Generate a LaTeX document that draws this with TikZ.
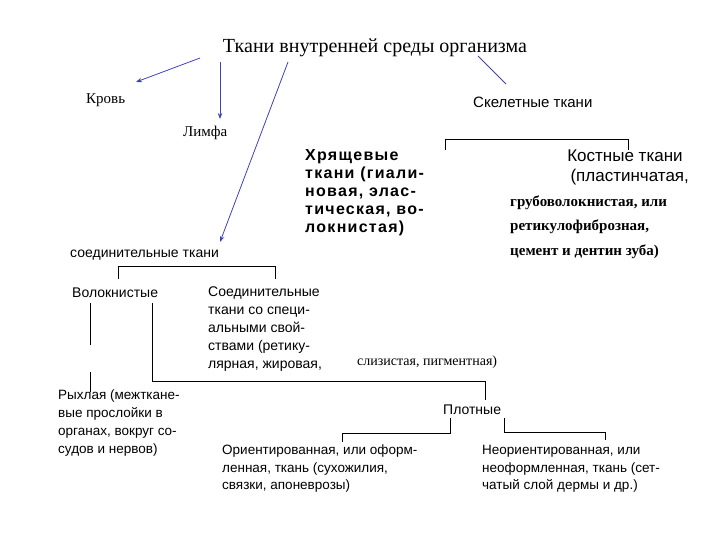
\documentclass[tikz,border=0pt]{standalone}
\usepackage{fontspec}
\usetikzlibrary{arrows.meta}
\setmainfont{Liberation Serif}
\newfontfamily\myss{Liberation Sans}
\newfontfamily\mywide[LetterSpace=8]{Liberation Sans}
\begin{document}
\begin{tikzpicture}[x=1pt,y=-1pt,
  ser/.style={inner sep=0pt,anchor=west,font=\fontsize{15}{18}\selectfont},
  san/.style={inner sep=0pt,anchor=west,align=left,font=\myss\fontsize{14}{17.5}\selectfont},
  bl/.style={draw=blue!50!gray,line width=0.8pt},
  arr/.style={bl,-{Stealth[length=6pt]}},
  br/.style={draw=black,line width=0.8pt}]
\useasboundingbox (0,0) rectangle (720,540);
\node[inner sep=0pt,font=\fontsize{20}{24}\selectfont] (t) at (375,48) {Ткани внутренней среды организма};
\node[ser] (krov) at (86,100) {Кровь};
\node[ser] (limf) at (183,133) {Лимфа};
\node[san,font=\myss\fontsize{15}{18}\selectfont] (skel) at (473,102) {Скелетные ткани};
\coordinate (a1) at (200,58); \coordinate (a1e) at (136,82);
\coordinate (a2) at (220,62); \coordinate (a2e) at (220,119);
\coordinate (a3) at (288,62); \coordinate (a3e) at (220,242);
\coordinate (a4) at (478,56); \coordinate (a4e) at (506,84);
\draw[arr] (a1) -- (a1e);
\draw[arr] (a2) -- (a2e);
\draw[arr] (a3) -- (a3e);
\draw[bl] (a4) -- (a4e);
\draw[br] (445,150) -- (445,139) -- (628,139) -- (628,150);
\node[san,font=\mywide\bfseries\fontsize{16}{18}\selectfont] (hr) at (305,193) {Хрящевые\\ткани (гиали-\\новая, элас-\\тическая, во-\\локнистая)};
\node[inner sep=0pt,font=\myss\fontsize{17}{20}\selectfont,align=center] (kost) at (625,167) {Костные ткани\\\ \ (пластинчатая,};
\node[ser,align=left,font=\bfseries\fontsize{15}{24.5}\selectfont] (kost2) at (510,227) {грубоволокнистая, или\\ретикулофиброзная,\\цемент и дентин зуба)};
\node[san] (soed) at (70,255) {соединительные ткани};
\draw[br] (118,279) -- (118,266) -- (275,266) -- (275,279);
\node[san] (vol) at (72,293) {Волокнистые};
\node[san,font=\myss\fontsize{14}{18}\selectfont] (spec) at (208,329) {Соединительные\\ткани со специ-\\альными свой-\\ствами (ретику-\\лярная, жировая,};
\node[ser,font=\fontsize{14}{17}\selectfont] (sliz) at (357,362) {слизистая, пигментная)};
\draw[br] (90,303) -- (90,345);
\draw[br] (90,372) -- (90,392);
\draw[br] (152,303) -- (152,381) -- (485,381) -- (485,400);
\node[san,font=\myss\fontsize{13.5}{17.7}\selectfont] (ryh) at (58,423) {Рыхлая (межткане-\\вые прослойки в\\органах, вокруг со-\\судов и нервов)};
\node[san] (plot) at (443,410) {Плотные};
\draw[br] (450,418) -- (450,433) -- (342,433) -- (342,442);
\draw[br] (504,418) -- (504,432) -- (605,432) -- (605,440);
\node[san,font=\myss\fontsize{13.5}{17.5}\selectfont] (or) at (222,469) {Ориентированная, или оформ-\\ленная, ткань (сухожилия,\\связки, апоневрозы)};
\node[san,font=\myss\fontsize{13.5}{17.5}\selectfont] (neor) at (482,469) {Неориентированная, или\\неоформленная, ткань (сет-\\чатый слой дермы и др.)};
\end{tikzpicture}
\end{document}
